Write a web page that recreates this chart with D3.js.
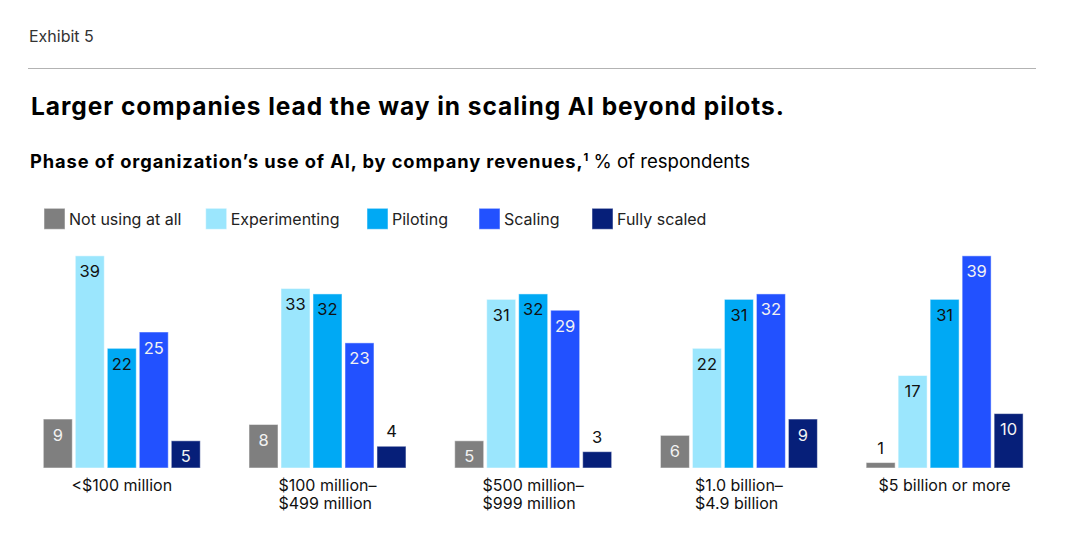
<!DOCTYPE html>
<html>
<head>
<meta charset="utf-8">
<script src="https://cdn.jsdelivr.net/npm/d3@7"></script>
<style>
  body { margin: 0; background: #fff; }
  text { font-family: Inter, "Liberation Sans", Arial, sans-serif; }
</style>
</head>
<body>
<div class="chart"></div>
<script>
const width = 1078
const height = 535

// data
const categories = [
    ["<$100 million"],
    ["$100 million–", "$499 million"],
    ["$500 million–", "$999 million"],
    ["$1.0 billion–", "$4.9 billion"],
    ["$5 billion or more"]
]
const seriesNames = ["Not using at all", "Experimenting", "Piloting", "Scaling", "Fully scaled"]
const notUsing = [9, 8, 5, 6, 1]
const experimenting = [39, 33, 31, 22, 17]
const piloting = [22, 32, 32, 31, 31]
const scaling = [25, 23, 29, 32, 39]
const fullyScaled = [5, 4, 3, 9, 10]

const seriesValues = [notUsing, experimenting, piloting, scaling, fullyScaled]
const colors = ["#7f7f7f", "#9be6fd", "#00a9f4", "#2251ff", "#061f79"]
const labelColors = ["#f2f2f2", "#111", "#111", "#f2f2f2", "#f2f2f2"]

const svg = d3.select(".chart")
    .append("svg")
    .attr("width", width)
    .attr("height", height)

// header
svg.append("text")
    .attr("x", 29).attr("y", 41.7)
    .style("font-size", "16px")
    .style("fill", "#333")
    .text("Exhibit 5")

svg.append("line")
    .attr("x1", 28).attr("x2", 1036)
    .attr("y1", 68.5).attr("y2", 68.5)
    .attr("stroke", "#b3b3b3")
    .attr("stroke-width", 1)

svg.append("text")
    .attr("x", 31).attr("y", 115)
    .style("font-size", "24.5px")
    .style("font-weight", "700")
    .style("letter-spacing", "0.95px")
    .style("fill", "#000")
    .text("Larger companies lead the way in scaling AI beyond pilots.")

const sub = svg.append("text")
    .attr("x", 30).attr("y", 168.3)
    .style("font-size", "18.3px")
    .style("fill", "#000")
sub.append("tspan")
    .style("font-weight", "700")
    .style("letter-spacing", "0.9px")
    .text("Phase of organization’s use of AI, by company revenues,")
sub.append("tspan").attr("dy", -7).style("font-size", "11px").style("font-weight", "700").text("1")
sub.append("tspan").attr("dy", 7).style("font-size", "18.6px").text(" % of respondents")

// legend
const legendX = [44, 205.7, 367, 479, 592]
const legend = svg.append("g")
seriesNames.forEach((name, i) => {
    const item = legend.append("g").attr("transform", `translate(${legendX[i]}, 208.3)`)
    item.append("rect")
        .attr("width", 21).attr("height", 21)
        .attr("fill", colors[i])
        .attr("stroke", "rgba(255,255,255,0.5)")
    item.append("text")
        .attr("x", 25).attr("y", 16.7)
        .style("font-size", "16px")
        .style("fill", "#222")
        .text(name)
})

// scales
const baseline = 468
const x0 = d3.scaleBand()
    .domain(d3.range(categories.length))
    .range([43.3, 1023.1])
    .paddingInner(0.237)

const x1 = d3.scaleBand()
    .domain(d3.range(seriesNames.length))
    .range([0, x0.bandwidth()])
    .paddingInner(0.094)

const yScale = d3.scaleLinear()
    .domain([0, 40])
    .range([baseline, baseline - 40 * 5.44])

const rows = []
categories.forEach((c, ci) => {
    seriesValues.forEach((vals, si) => {
        rows.push({ ci: ci, si: si, value: vals[ci] })
    })
})

const g = svg.append("g")

g.selectAll("rect")
    .data(rows)
    .enter().append("rect")
        .attr("x", d => x0(d.ci) + x1(d.si))
        .attr("y", d => yScale(d.value))
        .attr("width", x1.bandwidth())
        .attr("height", d => baseline - yScale(d.value))
        .attr("fill", d => colors[d.si])
        .attr("stroke", "rgba(255,255,255,0.5)")
        .attr("stroke-width", 1)

g.selectAll("text.val")
    .data(rows)
    .enter().append("text")
        .attr("class", "val")
        .attr("x", d => x0(d.ci) + x1(d.si) + x1.bandwidth() / 2)
        .attr("y", d => d.value < 5 ? yScale(d.value) - 9 : yScale(d.value) + 21.5)
        .attr("text-anchor", "middle")
        .style("font-size", "16.5px")
        .style("fill", d => d.value < 5 ? "#111" : labelColors[d.si])
        .text(d => d.value)

// category labels, lines left-aligned, block centred under the group
categories.forEach((lines, ci) => {
    const cx = x0(ci) + x0.bandwidth() / 2
    const t = g.append("text")
        .attr("y", 491)
        .style("font-size", "16px")
        .style("fill", "#111")
    lines.forEach((line, li) => {
        t.append("tspan")
            .attr("dy", li === 0 ? 0 : 18)
            .text(line)
    })
    const first = t.select("tspan").node().getComputedTextLength()
    t.attr("x", cx - first / 2)
    t.selectAll("tspan").attr("x", cx - first / 2)
})
</script>
</body>
</html>
